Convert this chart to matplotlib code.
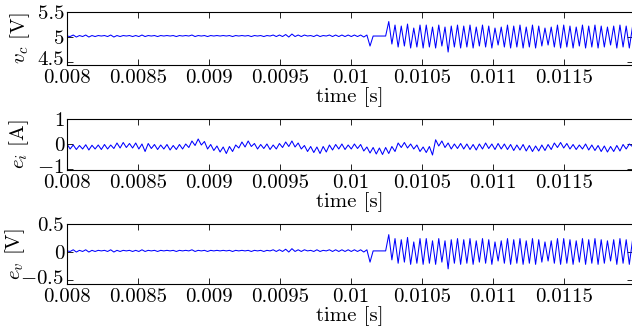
import numpy as np
import matplotlib
matplotlib.use("Agg")
import matplotlib.pyplot as plt
import matplotlib.transforms as mtransforms

plt.rcParams['font.family'] = 'serif'
plt.rcParams['font.serif'] = ['cmr10', 'DejaVu Serif']
plt.rcParams['mathtext.fontset'] = 'cm'
plt.rcParams['axes.unicode_minus'] = False

# --- data (peak / trough values, step 22 us) ---
T0 = 0.008
DT = 22e-6
VREF = 5.0

vc = [
    5.02, 5.01, 5.04, 5.00, 5.03, 5.01, 5.04, 5.00, 5.03, 5.01,
    5.03, 5.02, 5.03, 5.01, 5.04, 5.00, 5.03, 5.01, 5.03, 5.02,
    5.03, 5.01, 5.03, 5.01, 5.04, 5.01, 5.03, 5.02, 5.03, 5.01,
    5.03, 5.02, 5.03, 5.02, 5.03, 5.01, 5.03, 5.02, 5.03, 5.02,
    5.04, 5.01, 5.03, 5.02, 5.03, 5.01, 5.03, 5.02, 5.03, 5.02,
    5.03, 5.02, 5.03, 5.01, 5.03, 5.02, 5.03, 5.02, 5.03, 5.01,
    5.03, 5.02, 5.03, 5.01, 5.03, 5.02, 5.04, 5.01, 5.04, 5.01,
    5.05, 5.00, 5.06, 5.01, 5.04, 5.01, 5.04, 5.02, 5.03, 5.01,
    5.04, 5.01, 5.03, 5.02, 5.04, 5.01, 5.04, 5.01, 5.04, 5.01,
    5.04, 5.01, 5.04, 5.01, 5.04, 5.00, 5.04, 4.82, 5.02, 5.02,
    5.02, 5.02, 5.02, 5.31, 4.86, 5.24, 4.80, 5.22, 4.82, 5.26,
    4.78, 5.18, 4.80, 5.24, 4.78, 5.24, 4.80, 5.20, 4.78, 5.24,
    4.82, 5.20, 4.70, 5.22, 4.80, 5.24, 4.78, 5.22, 4.80, 5.24,
    4.78, 5.20, 4.82, 5.24, 4.80, 5.22, 4.78, 5.18, 4.84, 5.20,
    4.80, 5.24, 4.78, 5.22, 4.80, 5.24, 4.78, 5.20, 4.80, 5.24,
    4.78, 5.22, 4.82, 5.18, 4.84, 5.20, 4.80, 5.24, 4.78, 5.24,
    4.80, 5.22, 4.78, 5.20, 4.82, 5.24, 4.78, 5.22, 4.80, 5.24,
    4.78, 5.22, 4.80, 5.20, 4.84, 5.22, 4.78, 5.24, 4.80, 5.22,
    4.78, 5.20,
]

ei = [
    0.00, -0.20, -0.04, -0.22, -0.06, -0.20, -0.03, -0.24, -0.05, -0.20,
    -0.04, -0.22, -0.02, -0.20, -0.04, -0.18, 0.04, -0.16, 0.06, -0.14,
    0.02, -0.16, 0.04, -0.20, 0.00, -0.30, 0.02, -0.18, -0.02, -0.22,
    -0.04, -0.20, -0.02, -0.24, -0.06, -0.22, -0.02, -0.20, 0.00, -0.14,
    0.12, -0.06, 0.20, -0.04, 0.10, -0.20, -0.02, -0.26, -0.08, -0.32,
    -0.12, -0.38, -0.10, -0.30, -0.04, -0.16, 0.08, -0.12, 0.12, -0.10,
    0.02, -0.20, -0.02, -0.18, 0.00, -0.22, -0.04, -0.20, 0.02, -0.14,
    0.08, -0.10, 0.12, -0.12, 0.04, -0.20, -0.06, -0.30, -0.10, -0.34,
    -0.12, -0.38, -0.10, -0.32, -0.04, -0.24, -0.02, -0.20, 0.00, -0.22,
    -0.04, -0.20, 0.00, -0.18, -0.02, -0.28, -0.12, -0.36, -0.14, -0.40,
    -0.16, -0.42, -0.14, -0.38, -0.10, -0.30, 0.04, -0.14, 0.06, -0.16,
    0.00, -0.20, -0.04, -0.30, -0.12, -0.34, -0.10, -0.44, 0.17, -0.08,
    0.12, -0.14, 0.04, -0.20, 0.00, -0.18, 0.02, -0.20, 0.00, -0.22,
    -0.02, -0.24, 0.00, -0.20, 0.04, -0.18, 0.00, -0.22, 0.02, -0.20,
    0.00, -0.22, -0.02, -0.26, -0.04, -0.24, -0.02, -0.28, -0.06, -0.30,
    -0.08, -0.28, -0.04, -0.26, -0.02, -0.22, 0.04, -0.14, 0.06, -0.16,
    0.02, -0.20, -0.02, -0.22, -0.04, -0.20, 0.00, -0.24, -0.04, -0.26,
    -0.06, -0.30, -0.08, -0.32, -0.10, -0.30, -0.06, -0.28, -0.02, -0.20,
    0.00, -0.10,
]

# voltage error = measured capacitor voltage - reference
ev = [v - VREF for v in vc]

xticks = [0.008, 0.0085, 0.009, 0.0095, 0.01, 0.0105, 0.011, 0.0115]
xticklabels = ['0.008', '0.0085', '0.009', '0.0095', '0.01', '0.0105', '0.011', '0.0115']

panels = [
    # series, ylabel, yticks, yticklabels, ylim, axes rect, ylabel x
    (vc, r'$v_c$ [V]', [4.5, 5, 5.5], ['4.5', '5', '5.5'], (4.44, 5.5),
     [0.106, 0.8036, 0.8956, 0.160], -0.062),
    (ei, r'$e_i$ [A]', [-1, 0, 1], [r'$-1$', '0', '1'], (-1.04, 1.0),
     [0.106, 0.4864, 0.8956, 0.1541], -0.064),
    (ev, r'$e_v$ [V]', [-0.5, 0, 0.5], [r'$-0.5$', '0', '0.5'], (-0.57, 0.5),
     [0.106, 0.142, 0.8956, 0.1813], -0.071),
]

t = T0 + DT * np.arange(len(vc))

fig = plt.figure(figsize=(6.32, 3.31), dpi=100)
nudge = mtransforms.ScaledTranslation(0, 2.5 / 72, fig.dpi_scale_trans)
for y, ylab, yt, ytl, ylim, rect, lx in panels:
    ax = fig.add_axes(rect)
    ax.plot(t, y, color=(0, 0, 1), lw=0.75)
    ax.set_xlim(0.008, 0.011986)
    ax.set_ylim(*ylim)
    ax.set_xticks(xticks)
    ax.set_xticklabels(xticklabels)
    ax.set_yticks(yt)
    ax.set_yticklabels(ytl)
    ax.tick_params(direction='in', top=True, right=True, length=4,
                   width=0.6, labelsize=15)
    ax.tick_params(axis='x', pad=3)
    ax.tick_params(axis='y', pad=2)
    # lift the lowest y tick label a touch so it clears the x tick labels
    low = ax.get_yticklabels()[0]
    low.set_transform(low.get_transform() + nudge)
    ax.set_xlabel('time [s]', fontsize=15, labelpad=0)
    ax.set_ylabel(ylab, fontsize=15)
    ax.yaxis.set_label_coords(lx, 0.5)
    for s in ax.spines.values():
        s.set_linewidth(0.8)

fig.savefig('out.png', dpi=100)
